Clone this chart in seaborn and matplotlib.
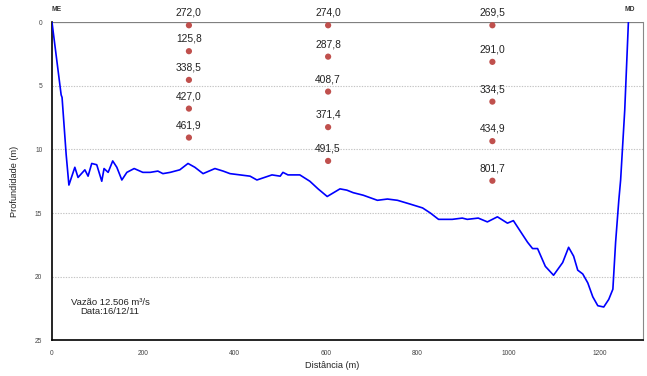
import pandas as pd
import matplotlib
matplotlib.use("Agg")
import matplotlib.pyplot as plt
import seaborn as sns

# bottom profile (distance from left bank, depth)
dist = [0, 20, 22, 31, 37, 50, 57, 72, 79, 87, 98, 109, 114, 123, 133, 142, 153, 164,
        180, 199, 215, 232, 243, 259, 280, 298, 313, 331, 357, 375, 390, 412, 434, 449,
        482, 500, 506, 517, 543, 565, 583, 603, 631, 646, 660, 682, 713, 735, 757, 785,
        812, 829, 847, 877, 899, 910, 934, 954, 976, 998, 1011, 1031, 1042, 1053, 1064,
        1081, 1099, 1119, 1132, 1143, 1152, 1163, 1174, 1185, 1196, 1209, 1220, 1229,
        1235, 1242, 1246, 1255, 1263]
depth = [0.0, 5.7, 5.9, 10.4, 12.8, 11.4, 12.2, 11.6, 12.1, 11.1, 11.2, 12.5, 11.5, 11.8,
         10.9, 11.4, 12.4, 11.8, 11.5, 11.8, 11.8, 11.7, 11.9, 11.8, 11.6, 11.1, 11.4, 11.9,
         11.5, 11.7, 11.9, 12.0, 12.1, 12.4, 12.0, 12.1, 11.8, 12.0, 12.0, 12.5, 13.1, 13.7,
         13.1, 13.2, 13.4, 13.6, 14.0, 13.9, 14.0, 14.3, 14.6, 15.0, 15.5, 15.5, 15.4, 15.5,
         15.4, 15.7, 15.3, 15.8, 15.6, 16.7, 17.3, 17.8, 17.8, 19.2, 19.9, 18.9, 17.7, 18.4,
         19.5, 19.8, 20.5, 21.6, 22.3, 22.4, 21.8, 21.0, 17.3, 14.0, 12.4, 6.9, 0.0]

# velocity readings per vertical
vert_x = [300, 605, 965]
vert1_depth = [0.22, 2.26, 4.52, 6.78, 9.06]
vert1_vals = ["272,0", "125,8", "338,5", "427,0", "461,9"]
vert2_depth = [0.22, 2.69, 5.44, 8.24, 10.9]
vert2_vals = ["274,0", "287,8", "408,7", "371,4", "491,5"]
vert3_depth = [0.22, 3.1, 6.23, 9.34, 12.46]
vert3_vals = ["269,5", "291,0", "334,5", "434,9", "801,7"]

profile = pd.DataFrame({"dist": dist, "depth": depth})
pts = pd.DataFrame({
    "dist": [vert_x[0]] * 5 + [vert_x[1]] * 5 + [vert_x[2]] * 5,
    "depth": vert1_depth + vert2_depth + vert3_depth,
    "label": vert1_vals + vert2_vals + vert3_vals,
})

sns.set_style("white")
plt.rcParams["font.family"] = ["Liberation Sans", "DejaVu Sans"]

fig = plt.figure(figsize=(6.47, 3.76), dpi=100)
ax = fig.add_axes([0.0804, 0.0957, 0.9134, 0.8445])

for y in [5, 10, 15, 20]:
    ax.axhline(y, color="#c4c4c4", lw=0.8, ls=(0, (1.2, 1.2)), zorder=0)
ax.axhline(0, color="#808080", lw=0.9, zorder=0)

sns.lineplot(data=profile, x="dist", y="depth", sort=False, color="#0000ff",
             lw=1.2, ax=ax, zorder=3)
sns.scatterplot(data=pts, x="dist", y="depth", color="#c0504d", s=20,
                edgecolor="none", ax=ax, zorder=4)

for _, r in pts.iterrows():
    ax.annotate(r["label"], (r["dist"], r["depth"]), xytext=(0, 9),
                textcoords="offset points", ha="center", va="center",
                fontsize=7.4, color="#222222")

ax.text(11, -1.0, "ME", ha="center", va="center", fontsize=4.8,
        fontweight="bold", color="#333333", clip_on=False)
ax.text(1265, -1.0, "MD", ha="center", va="center", fontsize=4.8,
        fontweight="bold", color="#333333", clip_on=False)
ax.text(127, 22.4, "Vazão 12.506 m³/s\nData:16/12/11", ha="center", va="center",
        fontsize=6.8, color="#222222", linespacing=1.0)

ax.set_xlim(0, 1295)
ax.set_ylim(25, 0)
ax.set_xticks(range(0, 1201, 200))
ax.set_yticks(range(0, 26, 5))
ax.tick_params(labelsize=4.8, labelcolor="#444444", length=2, direction="in",
               width=0.6, pad=7)
ax.set_xlabel("Distância (m)", fontsize=6.6, color="#222222")
ax.set_ylabel("Profundidade (m)", fontsize=6.6, color="#222222")
ax.xaxis.set_label_coords(0.474, -0.065)
ax.yaxis.set_label_coords(-0.056, 0.5)

ax.spines["left"].set_color("black")
ax.spines["left"].set_linewidth(1.2)
ax.spines["bottom"].set_color("black")
ax.spines["bottom"].set_linewidth(1.2)
ax.spines["right"].set_color("#888888")
ax.spines["right"].set_linewidth(0.8)
ax.spines["top"].set_visible(False)

fig.savefig("out.png", dpi=100)
